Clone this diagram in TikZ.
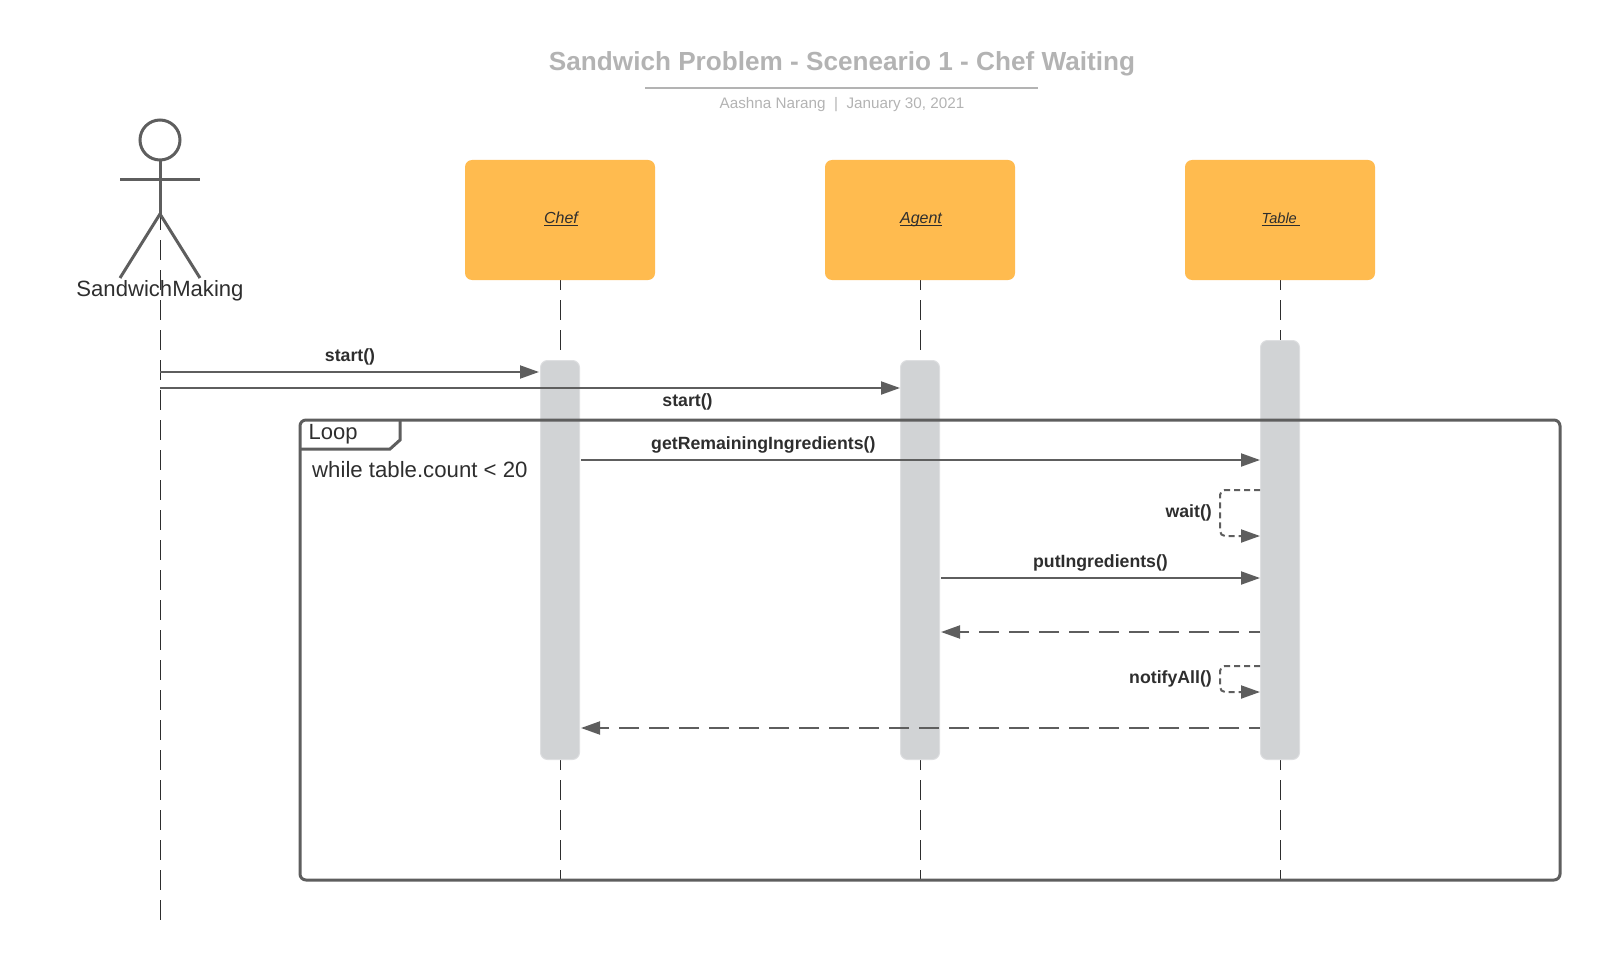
\documentclass[tikz,border=0pt]{standalone}
\usepackage{fontspec}
\setmainfont{Liberation Sans}
\usetikzlibrary{arrows.meta}
\definecolor{linegray}{HTML}{5E5E5E}
\definecolor{titlegray}{HTML}{B3B3B3}
\definecolor{boxorange}{HTML}{FFBB4F}
\definecolor{actgray}{HTML}{D1D3D5}
\definecolor{actedge}{HTML}{DEDFE1}
\definecolor{txtdark}{HTML}{2E2E2E}
\newcommand{\fs}[1]{\fontsize{#1}{#1}\selectfont}
\tikzset{
  x=1pt,y=-1pt,
  objbox/.style={fill=boxorange,rounded corners=7pt,minimum width=190pt,minimum height=120pt,inner sep=0pt,text=txtdark,font=\fs{16}\itshape,text height=10pt,text depth=3.4pt},
  actbar/.style={fill=actgray,draw=actedge,line width=1pt,rounded corners=7pt,minimum width=39pt,anchor=north,inner sep=0pt},
  lifeline/.style={draw=txtdark,line width=1pt,dash pattern=on 20pt off 10pt},
  lifeshort/.style={draw=txtdark,line width=1pt,dash pattern=on 20pt off 10pt,dash phase=10pt},
  msg/.style={draw=linegray,line width=2pt,-{Triangle[length=19pt,width=13pt,fill=linegray]}},
  retmsg/.style={msg,dash pattern=on 20pt off 10pt,dash phase=9pt},
  selfmsg/.style={msg,rounded corners=5pt,dash pattern=on 6pt off 4pt},
  msglabel/.style={anchor=base,inner sep=0pt,text=txtdark,font=\fs{17.7}\bfseries},
  stick/.style={draw=linegray,line width=3pt},
}
\begin{document}
\begin{tikzpicture}
\useasboundingbox (0,0) rectangle (1600,960);
% title
\node[anchor=base,inner sep=0pt,text=titlegray,font=\fs{26.15}\bfseries] (title) at (842,70.7) {Sandwich Problem - Sceneario 1 - Chef Waiting};
\coordinate (ruleL) at (645,88); \coordinate (ruleR) at (1038,88);
\draw[titlegray,line width=2pt] (ruleL) -- (ruleR);
\node[anchor=base,inner sep=0pt,text=titlegray,font=\fs{15.25}] (sub) at (842,108.5) {Aashna Narang\ \ |\ \ January 30, 2021};
% lifelines
\coordinate (actorTop) at (160,210); \coordinate (actorEnd) at (160,920);
\draw[lifeline] (actorTop) -- (actorEnd);
\foreach \n/\x in {chef/560,agent/920,table/1280}{
  \coordinate (\n Top) at (\x,280);
  \coordinate (\n Low) at (\x,760);
  \coordinate (\n End) at (\x,880);
  \draw[lifeshort] (\n Top) -- (\x,350);
  \draw[lifeshort] (\n Low) -- (\n End);
}
% objects
\node[objbox] (chef) at (560,220) {\hspace*{2pt}\underline{\smash{Chef}}};
\node[objbox] (agent) at (920,220) {\hspace*{2pt}\underline{\smash{Agent}}};
\node[objbox] (table) at (1280,220) {\hspace*{2pt}\underline{\smash{\fs{14.6}Table\hspace{3.5pt}}}};
% activations
\node[actbar,minimum height=399pt] (chefAct) at (560,360) {};
\node[actbar,minimum height=399pt] (agentAct) at (920,360) {};
\node[actbar,minimum height=419pt] (tableAct) at (1280,340) {};
% actor
\node[draw=linegray,line width=3pt,circle,minimum size=40pt,inner sep=0pt] (head) at (160,140) {};
\coordinate (hip) at (160,214); \coordinate (armL) at (120,180); \coordinate (armR) at (200,180);
\coordinate (footL) at (120,278); \coordinate (footR) at (200,278);
\draw[stick] (head.south) -- (hip);
\draw[stick] (armL) -- (armR);
\draw[stick] (footL) -- (hip) -- (footR);
\node[anchor=base,inner sep=0pt,text=txtdark,font=\fs{22.1}] (actor) at (160,296) {SandwichMaking};
% loop frame
\coordinate (fNW) at (300,420); \coordinate (fSE) at (1560,880);
\draw[stick,rounded corners=6pt] (fNW) rectangle (fSE);
\coordinate (tabR) at (400,420); \coordinate (tabB) at (300,449);
\draw[stick] (tabR) -- (400,440) -- (390,449) -- (tabB);
\node[anchor=base west,inner sep=0pt,text=txtdark,font=\fs{22}] (loopname) at (308.5,439) {Loop};
\node[anchor=base west,inner sep=0pt,text=txtdark,font=\fs{22.2}] (guard) at (312,477) {while table.count < 20};
% messages
\coordinate (m1a) at (160,372); \coordinate (m1b) at (539,372);
\draw[msg] (m1a) -- (m1b);
\node[msglabel] (l1) at (350,361) {start()};
\coordinate (m2a) at (160,388); \coordinate (m2b) at (900,388);
\draw[msg] (m2a) -- (m2b);
\node[msglabel] (l2) at (687.5,406) {start()};
\coordinate (m3a) at (581,460); \coordinate (m3b) at (1260,460);
\draw[msg] (m3a) -- (m3b);
\node[msglabel] (l3) at (763.3,449) {getRemainingIngredients()};
\coordinate (s1a) at (1260,490); \coordinate (s1b) at (1260,536);
\draw[selfmsg] (s1a) -- (1220,490) -- (1220,536) -- (s1b);
\node[msglabel,anchor=base east] (l4) at (1212,517) {wait()};
\coordinate (m4a) at (941,578); \coordinate (m4b) at (1260,578);
\draw[msg] (m4a) -- (m4b);
\node[msglabel] (l5) at (1100.5,567) {putIngredients()};
\coordinate (r1a) at (1260,632); \coordinate (r1b) at (941,632);
\draw[retmsg] (r1a) -- (r1b);
\coordinate (s2a) at (1260,666); \coordinate (s2b) at (1260,692);
\draw[selfmsg] (s2a) -- (1220,666) -- (1220,692) -- (s2b);
\node[msglabel,anchor=base east] (l6) at (1212,683) {notifyAll()};
\coordinate (r2a) at (1260,728); \coordinate (r2b) at (581,728);
\draw[retmsg] (r2a) -- (r2b);
\end{tikzpicture}
\end{document}
